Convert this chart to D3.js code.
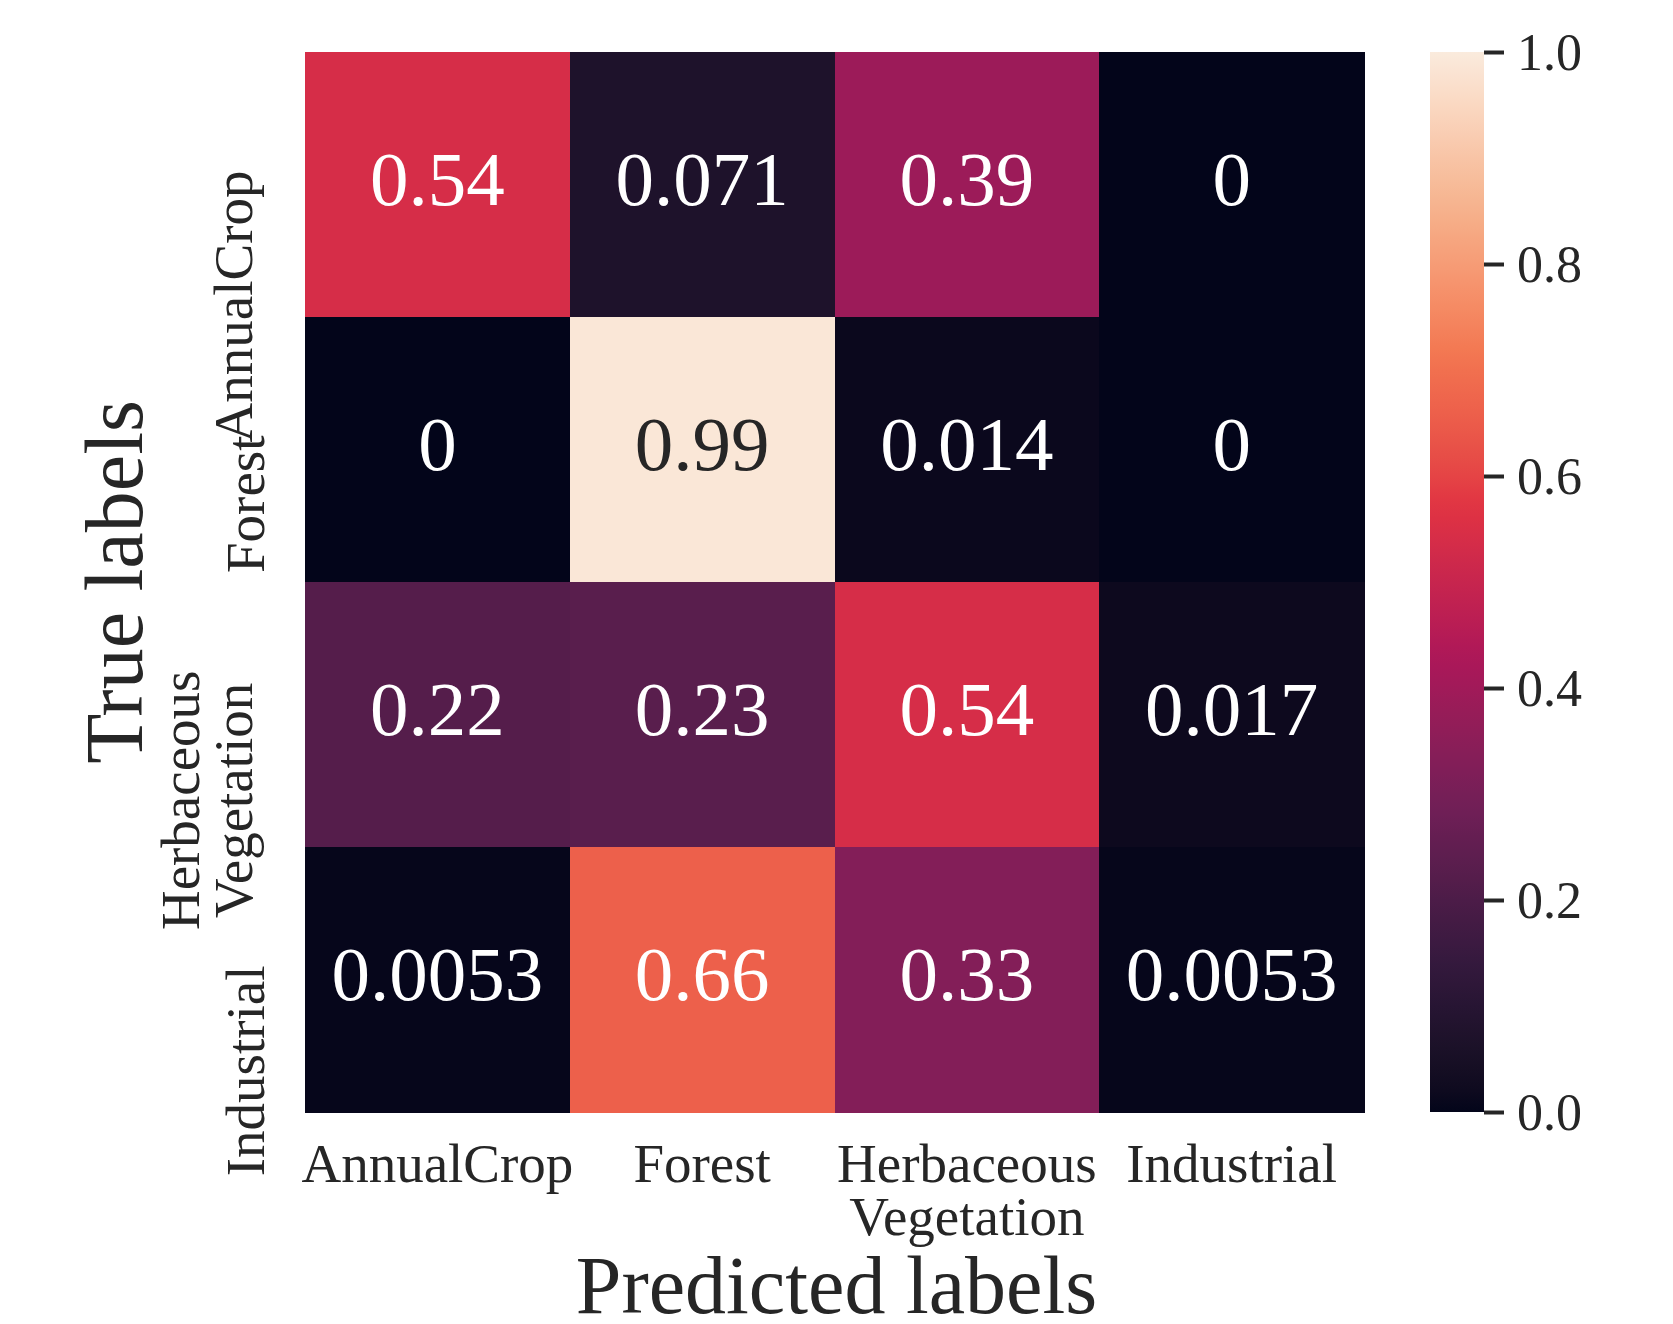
<!DOCTYPE html>
<html>
<head>
<meta charset="utf-8">
<script src="https://cdn.jsdelivr.net/npm/d3@7"></script>
<style>
  html, body { margin: 0; padding: 0; background: #ffffff; }
  svg { display: block; }
  text { font-family: "Liberation Serif", "DejaVu Serif", serif; fill: #262626; }
</style>
</head>
<body>
<svg id="chart" width="1673" height="1324"></svg>
<script>
// Confusion matrix: rows = true class, columns = predicted class
const classes = ["AnnualCrop", "Forest", "Herbaceous Vegetation", "Industrial"];
const classLines = [["AnnualCrop"], ["Forest"], ["Herbaceous", "Vegetation"], ["Industrial"]];
const rowAnnualCrop = [0.54, 0.071, 0.39, 0];
const rowForest = [0, 0.99, 0.014, 0];
const rowHerbaceous = [0.22, 0.23, 0.54, 0.017];
const rowIndustrial = [0.0053, 0.66, 0.33, 0.0053];
const matrixRows = [rowAnnualCrop, rowForest, rowHerbaceous, rowIndustrial];
const colorbarTicks = [0, 0.2, 0.4, 0.6, 0.8, 1.0];

// "rocket" colormap anchor colours
const rocketStops = ["#03051a", "#35193e", "#701f57", "#ad1759", "#e13342", "#f37651", "#f6b48f", "#faebdd"];

const svg = d3.select("#chart");
const plot = { left: 305, right: 1364, top: 52, bottom: 1112 };
const cbar = { left: 1430, right: 1484 };
const tickFont = 55;
const lineStep = 53;

const x = d3.scaleBand().domain(classes).range([plot.left, plot.right]).padding(0);
const y = d3.scaleBand().domain(classes).range([plot.top, plot.bottom]).padding(0);

const color = d3.scaleLinear()
  .domain(rocketStops.map((_, i) => i / (rocketStops.length - 1)))
  .range(rocketStops)
  .interpolate(d3.interpolateLab)
  .clamp(true);

const cells = [];
matrixRows.forEach((row, i) => row.forEach((v, j) => cells.push({ t: classes[i], p: classes[j], v })));

// heatmap cells
svg.append("g").selectAll("rect").data(cells).join("rect")
  .attr("x", d => x(d.p))
  .attr("y", d => y(d.t))
  .attr("width", x.bandwidth() + 0.5)
  .attr("height", y.bandwidth() + 0.5)
  .attr("fill", d => color(d.v))
  .attr("shape-rendering", "crispEdges");

// annotations (white on dark cells, dark on light cells)
const fmt = v => v === 0 ? "0" : d3.format(".2~g")(v);
function luminance(c) {
  const rgb = d3.rgb(c);
  const lin = ch => { ch /= 255; return ch <= 0.03928 ? ch / 12.92 : Math.pow((ch + 0.055) / 1.055, 2.4); };
  return 0.2126 * lin(rgb.r) + 0.7152 * lin(rgb.g) + 0.0722 * lin(rgb.b);
}
svg.append("g").selectAll("text").data(cells).join("text")
  .attr("x", d => x(d.p) + x.bandwidth() / 2)
  .attr("y", d => y(d.t) + y.bandwidth() / 2 + 20)
  .attr("text-anchor", "middle")
  .style("font-size", "77px")
  .style("fill", d => luminance(color(d.v)) > 0.408 ? "#262626" : "#ffffff")
  .text(d => fmt(d.v));

// x tick labels, centred under each column
const xLab = svg.append("g").selectAll("text").data(classes).join("text")
  .attr("text-anchor", "middle")
  .style("font-size", tickFont + "px")
  .attr("transform", d => `translate(${x(d) + x.bandwidth() / 2},1182)`);
xLab.selectAll("tspan").data((d, i) => classLines[i]).join("tspan")
  .attr("x", 0).attr("y", (d, k) => k * lineStep).text(d => d);

// y tick labels, rotated; the right edge of each label's box (descenders included)
// sits at the same distance from the heatmap, and its upper end starts just above the row centre
const hasDescender = s => /[gjpqy]/.test(s);
const descent = 0.21 * tickFont;
const yLabelEdge = 264;
const yLab = svg.append("g").selectAll("g").data(classes).join("g");
yLab.each(function(d, i) {
  const lines = classLines[i];
  const last = lines[lines.length - 1];
  const baseX = yLabelEdge - (hasDescender(last) ? descent : 0);
  const g = d3.select(this);
  const t = g.append("text")
    .attr("text-anchor", "middle")
    .style("font-size", tickFont + "px");
  t.selectAll("tspan").data(lines).join("tspan")
    .attr("x", 0).attr("y", (s, k) => (k - (lines.length - 1)) * lineStep).text(s => s);
  const len = d3.max(t.selectAll("tspan").nodes(), n => n.getComputedTextLength());
  const top = y(d) + y.bandwidth() / 2 - 14 - 30 * (lines.length - 1);
  g.attr("transform", `translate(${baseX},${top + len / 2}) rotate(-90)`);
});

// axis titles
svg.append("text")
  .attr("x", (plot.left + plot.right) / 2 + 2).attr("y", 1313)
  .attr("text-anchor", "middle").style("font-size", "82px")
  .text("Predicted labels");
svg.append("text")
  .attr("transform", `translate(142,${(plot.top + plot.bottom) / 2}) rotate(-90)`)
  .attr("text-anchor", "middle").style("font-size", "82px")
  .text("True labels");

// colorbar
const defs = svg.append("defs");
const grad = defs.append("linearGradient").attr("id", "cbar-grad")
  .attr("x1", 0).attr("y1", 1).attr("x2", 0).attr("y2", 0);
d3.range(0, 1.0001, 0.02).forEach(t => {
  grad.append("stop").attr("offset", t).attr("stop-color", color(t));
});
const cy = d3.scaleLinear().domain([0, 1]).range([plot.bottom, plot.top]);
svg.append("rect")
  .attr("x", cbar.left).attr("y", cy(1))
  .attr("width", cbar.right - cbar.left).attr("height", cy(0) - cy(1))
  .attr("fill", "url(#cbar-grad)");

const cAxis = svg.append("g")
  .attr("transform", `translate(${cbar.right},0)`)
  .call(d3.axisRight(cy).tickValues(colorbarTicks).tickFormat(d3.format(".1f")).tickSize(20).tickPadding(13));
cAxis.select(".domain").remove();
cAxis.selectAll(".tick line").attr("stroke", "#262626").attr("stroke-width", 4);
cAxis.selectAll(".tick text")
  .attr("fill", "#262626")
  .style("font-family", "'Liberation Serif', serif")
  .style("font-size", "52px")
  .attr("dy", "0.34em");
</script>
</body>
</html>
